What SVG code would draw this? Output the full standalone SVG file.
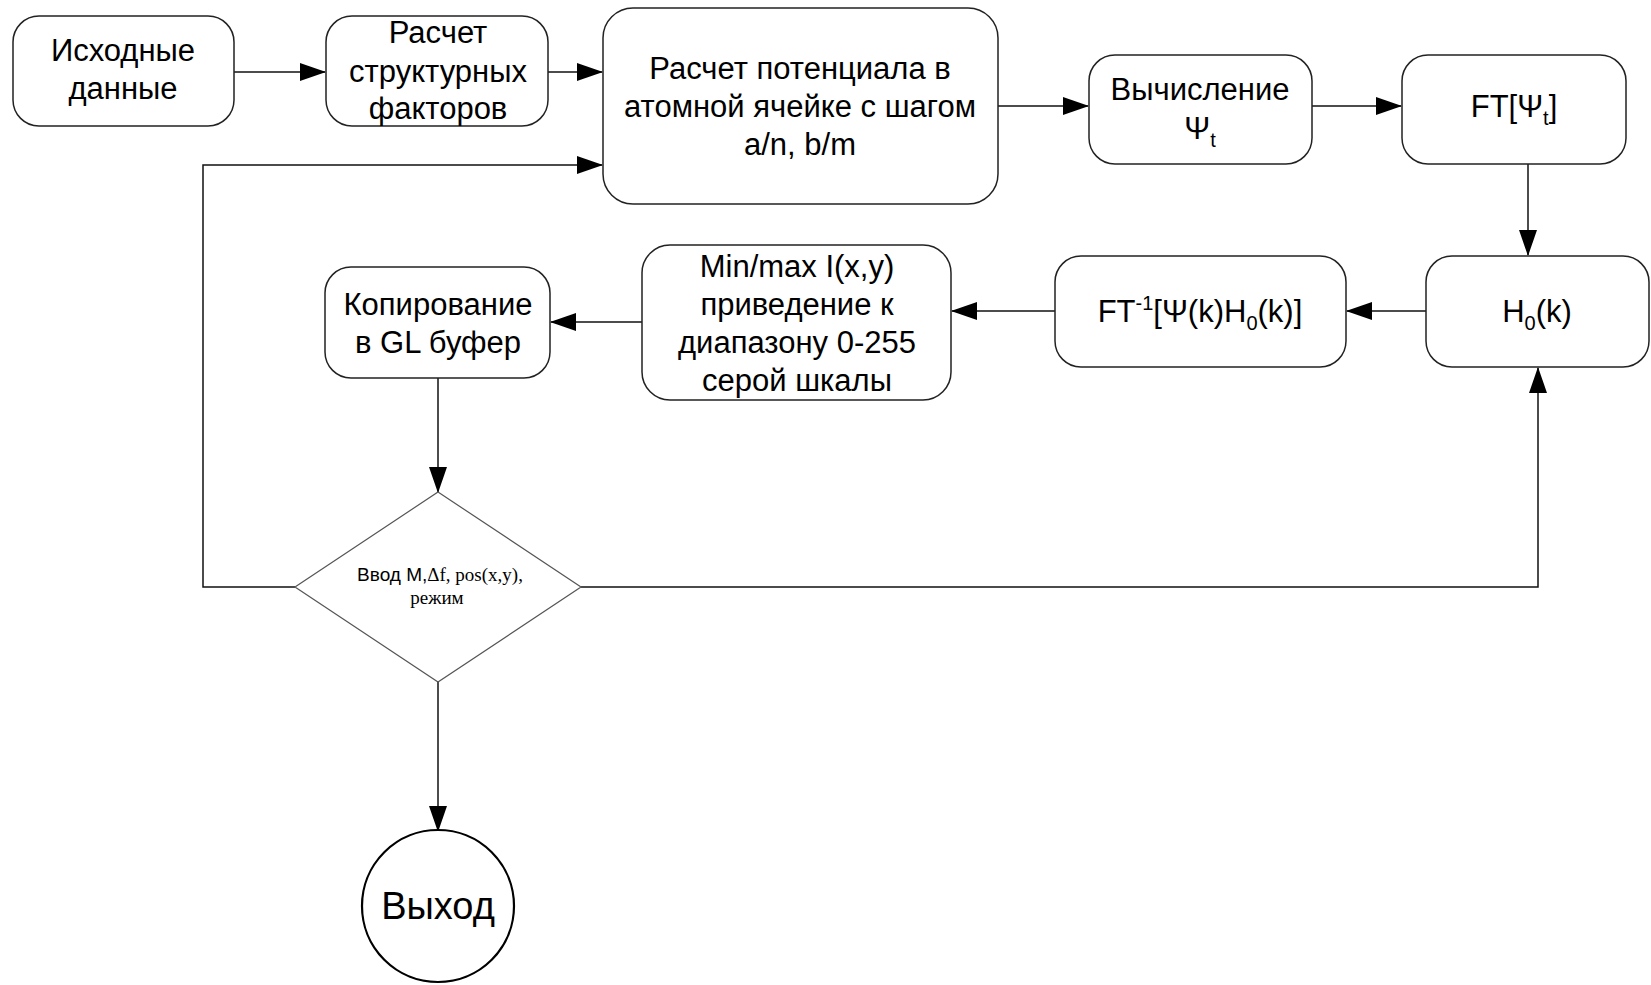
<svg xmlns="http://www.w3.org/2000/svg" width="1651" height="985" viewBox="0 0 1651 985">
<style>
.box{fill:#fff;stroke:#222;stroke-width:1.5}
.t{font-family:"Liberation Sans",Arial,sans-serif;font-size:31px;fill:#000;text-anchor:middle}
.c{fill:none;stroke:#111;stroke-width:1.5}
.tm{font-family:"Liberation Serif","Times New Roman",serif}
.sub{font-size:20px}
.small{font-size:19px}
.big{font-size:38px}
</style>
<defs>
<marker id="ah" markerWidth="26" markerHeight="18" refX="25" refY="9" orient="auto" markerUnits="userSpaceOnUse">
<path d="M0,0 L26,9 L0,18 Z" fill="#000"/>
</marker>
</defs>
<rect width="1651" height="985" fill="#fff"/>
<g id="connectors">
<line class="c" x1="234" y1="72" x2="325" y2="72" marker-end="url(#ah)"/>
<line class="c" x1="548" y1="72" x2="602" y2="72" marker-end="url(#ah)"/>
<polyline class="c" points="295,587 203,587 203,165 602,165" marker-end="url(#ah)"/>
<line class="c" x1="998" y1="106" x2="1088" y2="106" marker-end="url(#ah)"/>
<line class="c" x1="1312" y1="106" x2="1401" y2="106" marker-end="url(#ah)"/>
<line class="c" x1="1528" y1="164" x2="1528" y2="255" marker-end="url(#ah)"/>
<line class="c" x1="1426" y1="311" x2="1347" y2="311" marker-end="url(#ah)"/>
<line class="c" x1="1055" y1="311" x2="952" y2="311" marker-end="url(#ah)"/>
<line class="c" x1="642" y1="322" x2="551" y2="322" marker-end="url(#ah)"/>
<line class="c" x1="438" y1="378" x2="438" y2="492" marker-end="url(#ah)"/>
<polyline class="c" points="581,587 1538,587 1538,368" marker-end="url(#ah)"/>
<line class="c" x1="438" y1="682" x2="438" y2="831" marker-end="url(#ah)"/>
</g>
<g id="n1">
<rect class="box" x="13" y="16" width="221" height="110" rx="26"/>
<text class="t" x="123" y="61">Исходные</text>
<text class="t" x="123" y="99">данные</text>
</g>
<g id="n2">
<rect class="box" x="326" y="16" width="222" height="110" rx="26"/>
<text class="t" x="438" y="43">Расчет</text>
<text class="t" x="438" y="82">структурных</text>
<text class="t" x="438" y="119">факторов</text>
</g>
<g id="n3">
<rect class="box" x="603" y="8" width="395" height="196" rx="30"/>
<text class="t" x="800" y="79">Расчет потенциала в</text>
<text class="t" x="800" y="117">атомной ячейке с шагом</text>
<text class="t" x="800" y="155">a/n, b/m</text>
</g>
<g id="n4">
<rect class="box" x="1089" y="55" width="223" height="109" rx="26"/>
<text class="t" x="1200" y="100">Вычисление</text>
<text class="t" x="1200" y="139">Ψ<tspan class="sub" dy="8">t</tspan></text>
</g>
<g id="n5">
<rect class="box" x="1402" y="55" width="224" height="109" rx="26"/>
<text class="t" x="1514" y="117">FT[Ψ<tspan class="sub" dy="8">t</tspan><tspan dy="-8">]</tspan></text>
</g>
<g id="n6">
<rect class="box" x="1426" y="256" width="223" height="111" rx="26"/>
<text class="t" x="1537" y="322">H<tspan class="sub" dy="8">0</tspan><tspan dy="-8">(k)</tspan></text>
</g>
<g id="n7">
<rect class="box" x="1055" y="256" width="291" height="111" rx="26"/>
<text class="t" x="1200" y="322">FT<tspan class="sub" dy="-12">-1</tspan><tspan dy="12">[Ψ(k)H</tspan><tspan class="sub" dy="8">0</tspan><tspan dy="-8">(k)]</tspan></text>
</g>
<g id="n8">
<rect class="box" x="642" y="245" width="309" height="155" rx="28"/>
<text class="t" x="797" y="277">Min/max I(x,y)</text>
<text class="t" x="797" y="315">приведение к</text>
<text class="t" x="797" y="353">диапазону 0-255</text>
<text class="t" x="797" y="391">серой шкалы</text>
</g>
<g id="n9">
<rect class="box" x="325" y="267" width="225" height="111" rx="26"/>
<text class="t" x="438" y="315">Копирование</text>
<text class="t" x="438" y="353">в GL буфер</text>
</g>
<g id="n10">
<polygon points="438,492 581,587 438,682 295,587" fill="#fff" stroke="#555" stroke-width="1.2"/>
<text class="t small" x="440" y="581">Ввод М,<tspan class="tm">Δf, pos(x,y),</tspan></text>
<text class="t small tm" x="437" y="604">режим</text>
</g>
<g id="n11">
<circle cx="438" cy="906" r="76" fill="#fff" stroke="#000" stroke-width="2.2"/>
<text class="t big" x="438" y="919">Выход</text>
</g>
</svg>
